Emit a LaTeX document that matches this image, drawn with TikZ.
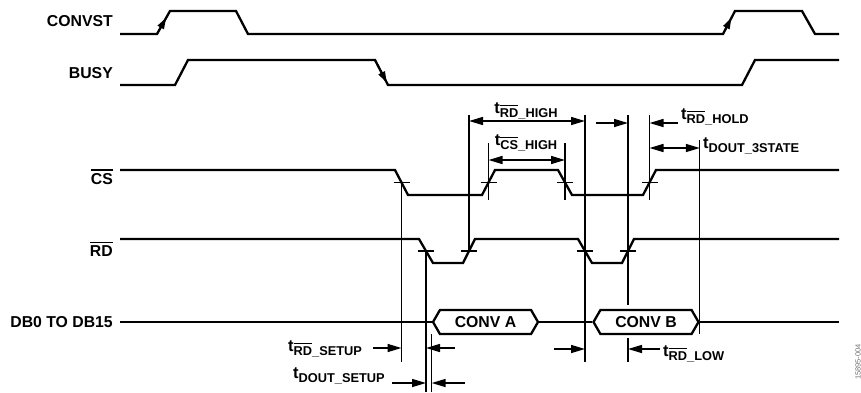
\documentclass[tikz,border=0pt]{standalone}
\usepackage{fontspec}
\setmainfont{Liberation Sans}
\usetikzlibrary{arrows.meta,shapes.symbols}

\newcommand\ovl[1]{\leavevmode\vbox{\hrule height .085em\kern .14em\hbox{#1}}}
\newcommand\tlabel[1]{{\fontsize{16.5}{16.5}\selectfont t}\raisebox{-4pt}{\fontsize{12.8}{12.8}\selectfont #1}}

\begin{document}
\begin{tikzpicture}[x=1pt, y=-1pt,
    wave/.style = {line width=2.3pt, line join=miter},
    guide/.style = {line width=1.2pt},
    dimto/.style = {line width=1.5pt, -{Triangle[length=14pt,width=8pt]}},
    dimboth/.style = {line width=1.5pt,
      {Triangle[length=14pt,width=8pt]}-{Triangle[length=14pt,width=8pt]}},
    edgearrow/.style = {line width=1.6pt, -{Triangle[length=11pt,width=7pt]}},
    word/.style = {signal, signal to=west and east, signal pointer angle=120,
      draw, line width=2.3pt, minimum width=105pt, minimum height=24pt},
    every node/.style = {font=\fontsize{15.8}{15.8}\selectfont\bfseries, inner sep=0pt}]
  \useasboundingbox (0,0) rectangle (861,392);

  \node[anchor=base east] (convst) at (113,26) {CONVST};
  \node[anchor=base east] (busy) at (113,78) {BUSY};
  \node[anchor=base east] (cs) at (113,184) {\ovl{CS}};
  \node[anchor=base east] (rd) at (113,256) {\ovl{RD}};
  \node[anchor=base east] (db) at (113,327) {DB0 TO DB15};

  \draw[wave] (120,34) -- (157,34) coordinate (cvlo1) -- coordinate[pos=.7] (cvup1) (170,11)
    -- (236,11) -- (248,34) -- (723,34) coordinate (cvlo2) -- coordinate[pos=.7] (cvup2) (735,11)
    -- (802,11) -- (815,34) -- (839,34);
  \draw[edgearrow] (cvlo1) -- (cvup1);
  \draw[edgearrow] (cvlo2) -- (cvup2);

  \draw[wave] (120,85) -- (175,85) -- (188,60) -- (375,60) coordinate (bsyhi)
    -- coordinate[pos=.9] (bsyfall) (388,85) -- (742,85) -- (755,60) -- (839,60);
  \draw[edgearrow] (bsyhi) -- (bsyfall);

  \draw[wave] (120,170) -- (395,170) -- coordinate (csf1) (408,195) -- (482,195)
    -- coordinate (csr1) (495,170) -- (558,170) -- coordinate (csf2) (572,195)
    -- (643,195) -- coordinate (csr2) (656,170) -- (839,170);
  \draw[wave] (120,239) -- (419,239) -- coordinate (rdf1) (433,263) -- (463,263)
    -- coordinate (rdr1) (475,239) -- (578,239) -- coordinate (rdf2) (592,263)
    -- (622,263) -- coordinate (rdr2) (634,239) -- (839,239);
  \foreach \c in {csf1,csr1,csf2,csr2,rdf1,rdr1,rdf2,rdr2}
    \draw[guide] ([xshift=-8pt]\c) -- ([xshift=8pt]\c);

  \node[word] (conva) at (485.5,322) {CONV A};
  \node[word] (convb) at (646,322) {CONV B};
  \coordinate (dbstart) at (120,322);
  \coordinate (dbend) at (839,322);
  \draw[wave] (dbstart) -- (conva.west);
  \draw[wave] (conva.east) -- (convb.west);
  \draw[wave] (convb.east) -- (dbend);

  \coordinate (top) at (0,115);
  \draw[guide] (csf1) -- (csf1 |- 0,362);
  \draw[guide] (rdf1) -- (rdf1 |- 0,392);
  \draw[guide] (conva.west |- 0,334) -- (conva.west |- 0,392);
  \draw[guide] (rdr1) -- (rdr1 |- top);
  \draw[guide] (csr1 |- 0,143) -- (csr1 |- 0,200);
  \draw[guide] (csf2 |- 0,143) -- (csf2 |- 0,200);
  \draw[guide] (rdf2 |- top) -- (rdf2 |- 0,362);
  \draw[guide] (rdr2 |- top) -- (rdr2 |- 0,305);
  \draw[guide] (rdr2 |- 0,338) -- (rdr2 |- 0,362);
  \draw[guide] (csr2 |- top) -- (csr2 |- 0,200);
  \draw[guide] (convb.east |- 0,140) -- (convb.east |- 0,334);

  \draw[dimboth] (rdr1 |- 0,121) -- (rdf2 |- 0,121);
  \node[anchor=base] (trdhigh) at (526,113) {\tlabel{\ovl{RD}\_HIGH}};
  \draw[dimboth] (csr1 |- 0,160) -- (csf2 |- 0,160);
  \node[anchor=base] (tcshigh) at (526,145) {\tlabel{\ovl{CS}\_HIGH}};

  \draw[dimto] (596,123) -- (rdr2 |- 0,123);
  \draw[dimto] (678,123) -- (csr2 |- 0,123);
  \node[anchor=base west] (trdhold) at (681,119) {\tlabel{\ovl{RD}\_HOLD}};
  \draw[dimboth] (csr2 |- 0,148) -- (convb.east |- 0,148);
  \node[anchor=base west] (tdout3) at (703,148) {\tlabel{DOUT\_3STATE}};

  \node[anchor=base west] (trdsetup) at (288,351) {\tlabel{\ovl{RD}\_SETUP}};
  \draw[dimto] (373,348) -- (csf1 |- 0,348);
  \draw[dimto] (455,348) -- (rdf1 |- 0,348);
  \node[anchor=base west] (tdoutsetup) at (293,378) {\tlabel{DOUT\_SETUP}};
  \draw[dimto] (392,383) -- (rdf1 |- 0,383);
  \draw[dimto] (465,383) -- (conva.west |- 0,383);

  \draw[dimto] (554,349) -- (rdf2 |- 0,349);
  \draw[dimto] (660,349) -- (rdr2 |- 0,349);
  \node[anchor=base west] (trdlow) at (663,356) {\tlabel{\ovl{RD}\_LOW}};

  \node[rotate=90, text=black!55, font=\fontsize{7.5}{7.5}\selectfont] (figno) at (858,362) {15895-004};
\end{tikzpicture}
\end{document}
